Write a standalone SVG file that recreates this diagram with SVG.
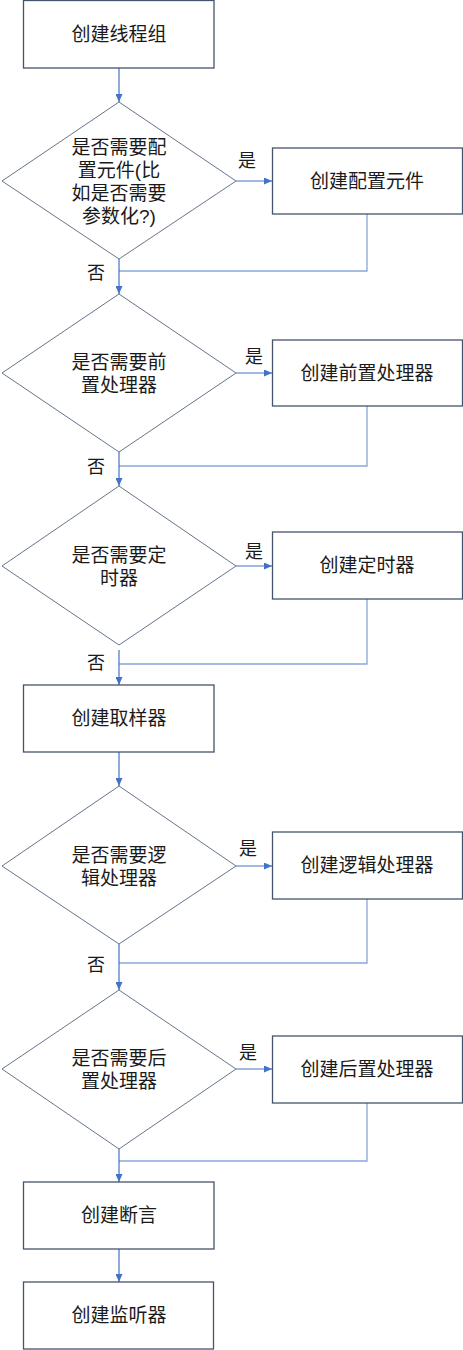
<svg xmlns="http://www.w3.org/2000/svg" width="463" height="1350" viewBox="0 0 463 1350">
<style>
.box{fill:#fff;stroke:#44546A;stroke-width:1.3}
.dia{fill:#fff;stroke:#66758B;stroke-width:1}
.t{font-family:"Liberation Sans","Noto Sans CJK SC",sans-serif;font-size:19px;fill:#1a1a1a;text-anchor:middle;dominant-baseline:central}
.lbl{font-family:"Liberation Sans","Noto Sans CJK SC",sans-serif;font-size:18px;fill:#1a1a1a;text-anchor:middle;dominant-baseline:central}
.c{fill:none;stroke:#4472C4;stroke-width:1.2}
.r{fill:none;stroke:#8AA6DA;stroke-width:1.3}
</style>
<defs>
<marker id="ah" viewBox="0 0 8 7" refX="8" refY="3.5" markerWidth="8" markerHeight="7" markerUnits="userSpaceOnUse" orient="auto">
<path d="M0,0 L8,3.5 L0,7 z" fill="#4472C4"/>
</marker>
</defs>
<rect width="463" height="1350" fill="#fff"/>
<g id="connectors">
<path class="c" d="M119,68 V102" marker-end="url(#ah)"/>
<path class="c" d="M236,181 H272" marker-end="url(#ah)"/>
<path class="r" d="M367,214 V271 H119"/>
<path class="c" d="M119,259 V294" marker-end="url(#ah)"/>
<path class="c" d="M236,373 H272" marker-end="url(#ah)"/>
<path class="r" d="M367,406 V466 H119"/>
<path class="c" d="M119,452 V486" marker-end="url(#ah)"/>
<path class="c" d="M236,566 H272" marker-end="url(#ah)"/>
<path class="r" d="M367,599 V664 H119"/>
<path class="c" d="M119,650 V685" marker-end="url(#ah)"/>
<path class="c" d="M119,752 V786" marker-end="url(#ah)"/>
<path class="c" d="M236,866 H272" marker-end="url(#ah)"/>
<path class="r" d="M367,899 V963 H119"/>
<path class="c" d="M119,944 V990" marker-end="url(#ah)"/>
<path class="c" d="M236,1069 H272" marker-end="url(#ah)"/>
<path class="r" d="M367,1103 V1161 H119"/>
<path class="c" d="M119,1149 V1182" marker-end="url(#ah)"/>
<path class="c" d="M119,1249 V1282" marker-end="url(#ah)"/>
<text class="lbl" x="247" y="161">是</text>
<text class="lbl" x="96" y="273">否</text>
<text class="lbl" x="254" y="357">是</text>
<text class="lbl" x="96" y="467">否</text>
<text class="lbl" x="254" y="552">是</text>
<text class="lbl" x="96" y="663">否</text>
<text class="lbl" x="248" y="849">是</text>
<text class="lbl" x="96" y="965">否</text>
<text class="lbl" x="248" y="1053">是</text>
</g>
<g id="n1"><rect class="box" x="23.5" y="0.5" width="190.5" height="67.5"/><text class="t" x="119" y="34">创建线程组</text></g>
<g id="d1"><polygon class="dia" points="119,102 236,181 119,259 2,181"/>
<text class="t" x="119" y="146.5"><tspan x="119">是否需要配</tspan><tspan x="119" dy="23">置元件(比</tspan><tspan x="119" dy="23">如是否需要</tspan><tspan x="119" dy="23">参数化?)</tspan></text></g>
<g id="n2"><rect class="box" x="272.5" y="148" width="190" height="66"/><text class="t" x="367" y="181">创建配置元件</text></g>
<g id="d2"><polygon class="dia" points="119,294 236,373 119,452 2,373"/>
<text class="t" x="119" y="361.5"><tspan x="119">是否需要前</tspan><tspan x="119" dy="23">置处理器</tspan></text></g>
<g id="n3"><rect class="box" x="272.5" y="340" width="190" height="66"/><text class="t" x="367" y="373">创建前置处理器</text></g>
<g id="d3"><polygon class="dia" points="119,486 236,566 119,645 2,566"/>
<text class="t" x="119" y="554.5"><tspan x="119">是否需要定</tspan><tspan x="119" dy="23">时器</tspan></text></g>
<g id="n4"><rect class="box" x="272.5" y="532" width="190" height="67"/><text class="t" x="367" y="565.5">创建定时器</text></g>
<g id="n5"><rect class="box" x="23.5" y="685" width="190.5" height="67"/><text class="t" x="119" y="718.5">创建取样器</text></g>
<g id="d4"><polygon class="dia" points="119,786 236,866 119,944 2,866"/>
<text class="t" x="119" y="854.5"><tspan x="119">是否需要逻</tspan><tspan x="119" dy="23">辑处理器</tspan></text></g>
<g id="n6"><rect class="box" x="272.5" y="832" width="190" height="67"/><text class="t" x="367" y="865.5">创建逻辑处理器</text></g>
<g id="d5"><polygon class="dia" points="119,990 236,1069 119,1149 2,1069"/>
<text class="t" x="119" y="1057.5"><tspan x="119">是否需要后</tspan><tspan x="119" dy="23">置处理器</tspan></text></g>
<g id="n7"><rect class="box" x="272.5" y="1036" width="190" height="67"/><text class="t" x="367" y="1069.5">创建后置处理器</text></g>
<g id="n8"><rect class="box" x="23.5" y="1182" width="190.5" height="67"/><text class="t" x="119" y="1215.5">创建断言</text></g>
<g id="n9"><rect class="box" x="23.5" y="1282" width="190" height="67"/><text class="t" x="119" y="1315.5">创建监听器</text></g>
</svg>
